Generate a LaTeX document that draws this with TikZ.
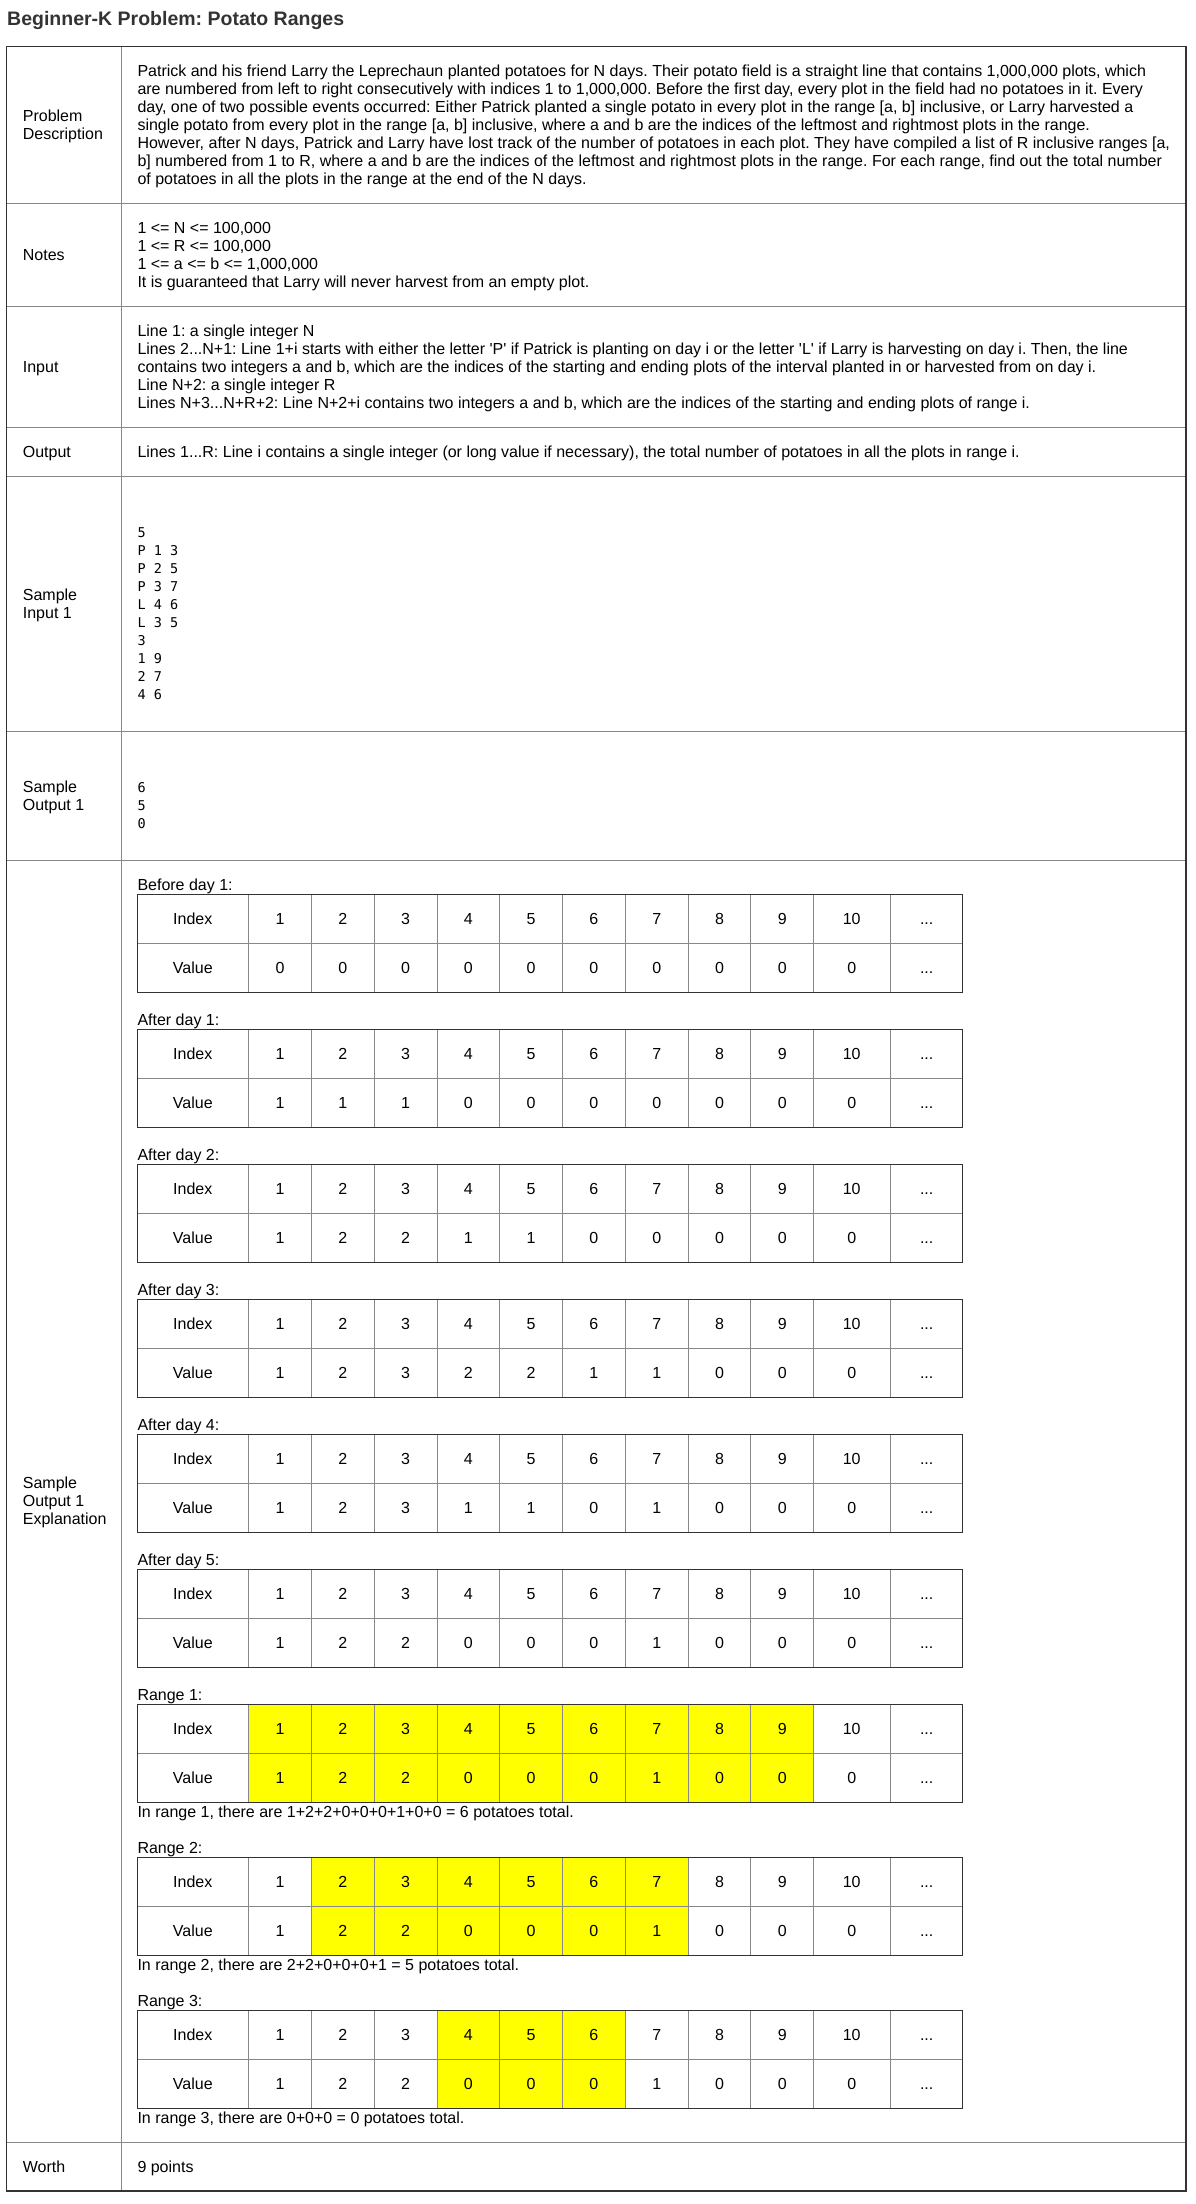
\documentclass[tikz,border=0pt]{standalone}
\usepackage{fontspec}
\setmainfont{Liberation Sans}
\setmonofont{DejaVu Sans Mono}
\definecolor{dark}{HTML}{333333}
\definecolor{grid}{HTML}{888888}
\definecolor{hl}{HTML}{FFFF00}
\tikzset{
  txt/.style={anchor=base west, inner sep=0pt, font=\fontsize{16}{18}\selectfont, text=black},
  mono/.style={anchor=base west, inner sep=0pt, font=\ttfamily\fontsize{13.5}{18}\selectfont, text=black},
  cell/.style={anchor=base, inner sep=0pt, font=\fontsize{16}{18}\selectfont, text=black},
  outerline/.style={draw=dark, line width=1.3pt},
  innerline/.style={draw=grid, line width=1pt},
}
% #1 name, #2 x, #3 y of text centre, #4 text
\newcommand\TL[4]{\node[txt] (#1) at (#2,#3+5.7) {#4};}
\newcommand\ML[4]{\node[mono] (#1) at (#2,#3+4.9) {#4};}
% #1 name, #2 top, #3 values of cells 1..9, #4 first highlighted, #5 last highlighted
\newcommand\ptable[5]{%
  \ifnum#4>0
    \fill[hl] ({248.7+62.77*(#4-1)},#2) rectangle ({248.7+62.77*#5},#2+98);
  \fi
  \foreach \k in {0,...,9}{\draw[innerline] ({248.7+62.77*\k},#2) -- ({248.7+62.77*\k},#2+98);}
  \draw[innerline] (890.8,#2) -- (890.8,#2+98);
  \draw[innerline] (137.3,#2+49) -- (962.7,#2+49);
  \draw[outerline] (137.3,#2) rectangle (962.7,#2+98);
  \node[cell] (#1ih) at (192.8,#2+30.2) {Index};
  \node[cell] (#1vh) at (192.8,#2+79.2) {Value};
  \foreach \k in {1,...,9}{\node[cell] (#1i\k) at ({248.7+62.77*(\k-0.5)},#2+30.2) {\k};}
  \foreach \v [count=\k] in {#3}{\node[cell] (#1v\k) at ({248.7+62.77*(\k-0.5)},#2+79.2) {\v};}
  \node[cell] (#1i10) at (851.7,#2+30.2) {10};
  \node[cell] (#1v10) at (851.7,#2+79.2) {0};
  \node[cell] (#1id) at (926.7,#2+30.2) {...};
  \node[cell] (#1vd) at (926.7,#2+79.2) {...};
}
\frenchspacing
\begin{document}
\frenchspacing
\begin{tikzpicture}[x=1pt,y=-1pt]
\useasboundingbox (0,0) rectangle (1195,2204);
\fill[white] (0,0) rectangle (1195,2204);
% title
\node[anchor=base west, inner sep=0pt, font=\fontsize{19.5}{22}\selectfont\bfseries, text=dark] (title) at (7,25) {Beginner-K Problem: Potato Ranges};
% main table
\foreach \y in {203,306,427.3,476,731.7,860.3,2142.3}{\draw[innerline] (6.7,\y) -- (1186,\y);}
\draw[innerline] (121.7,46.7) -- (121.7,2191);
\draw[outerline] (6.7,46.7) rectangle (1186,2191);
% labels
\TL{lpd1}{22.7}{115.3}{Problem}
\TL{lpd2}{22.7}{133.3}{Description}
\TL{lno}{22.7}{254.5}{Notes}
\TL{lin}{22.7}{366.7}{Input}
\TL{lout}{22.7}{451.7}{Output}
\TL{lsi1}{22.7}{594.3}{Sample}
\TL{lsi2}{22.7}{612.3}{Input 1}
\TL{lso1}{22.7}{786.7}{Sample}
\TL{lso2}{22.7}{804.7}{Output 1}
\TL{lse1}{22.7}{1482.3}{Sample}
\TL{lse2}{22.7}{1500.3}{Output 1}
\TL{lse3}{22.7}{1518.3}{Explanation}
\TL{lwo}{22.7}{2166.7}{Worth}
% description
\TL{d1}{137.3}{70.7}{Patrick and his friend Larry the Leprechaun planted potatoes for N days. Their potato field is a straight line that contains 1,000,000 plots, which}
\TL{d2}{137.3}{88.7}{are numbered from left to right consecutively with indices 1 to 1,000,000. Before the first day, every plot in the field had no potatoes in it. Every}
\TL{d3}{137.3}{106.7}{day, one of two possible events occurred: Either Patrick planted a single potato in every plot in the range [a, b] inclusive, or Larry harvested a}
\TL{d4}{137.3}{124.7}{single potato from every plot in the range [a, b] inclusive, where a and b are the indices of the leftmost and rightmost plots in the range.}
\TL{d5}{137.3}{142.7}{However, after N days, Patrick and Larry have lost track of the number of potatoes in each plot. They have compiled a list of R inclusive ranges [a,}
\TL{d6}{137.3}{160.7}{b] numbered from 1 to R, where a and b are the indices of the leftmost and rightmost plots in the range. For each range, find out the total number}
\TL{d7}{137.3}{178.7}{of potatoes in all the plots in the range at the end of the N days.}
% notes
\TL{n1}{137.3}{227.7}{1 <= N <= 100,000}
\TL{n2}{137.3}{245.7}{1 <= R <= 100,000}
\TL{n3}{137.3}{263.7}{1 <= a <= b <= 1,000,000}
\TL{n4}{137.3}{281.7}{It is guaranteed that Larry will never harvest from an empty plot.}
% input
\TL{i1}{137.3}{330.7}{Line 1: a single integer N}
\TL{i2}{137.3}{348.7}{Lines 2...N+1: Line 1+i starts with either the letter \textquotesingle P\textquotesingle\ if Patrick is planting on day i or the letter \textquotesingle L\textquotesingle\ if Larry is harvesting on day i. Then, the line}
\TL{i3}{137.3}{366.7}{contains two integers a and b, which are the indices of the starting and ending plots of the interval planted in or harvested from on day i.}
\TL{i4}{137.3}{384.7}{Line N+2: a single integer R}
\TL{i5}{137.3}{402.7}{Lines N+3...N+R+2: Line N+2+i contains two integers a and b, which are the indices of the starting and ending plots of range i.}
% output
\TL{o1}{137.3}{451.7}{Lines 1...R: Line i contains a single integer (or long value if necessary), the total number of potatoes in all the plots in range i.}
% sample input
\ML{s1}{137.3}{532.3}{5}
\ML{s2}{137.3}{550.3}{P 1 3}
\ML{s3}{137.3}{568.3}{P 2 5}
\ML{s4}{137.3}{586.3}{P 3 7}
\ML{s5}{137.3}{604.3}{L 4 6}
\ML{s6}{137.3}{622.3}{L 3 5}
\ML{s7}{137.3}{640.3}{3}
\ML{s8}{137.3}{658.3}{1 9}
\ML{s9}{137.3}{676.3}{2 7}
\ML{s10}{137.3}{694.3}{4 6}
% sample output
\ML{so1}{137.3}{787.3}{6}
\ML{so2}{137.3}{805.3}{5}
\ML{so3}{137.3}{823.3}{0}
% explanation
\TL{e0}{137.3}{884.8}{Before day 1:}
\ptable{ta}{894.3}{0,0,0,0,0,0,0,0,0}{0}{0}
\TL{e1}{137.3}{1019.8}{After day 1:}
\ptable{tb}{1029.3}{1,1,1,0,0,0,0,0,0}{0}{0}
\TL{e2}{137.3}{1154.8}{After day 2:}
\ptable{tc}{1164.3}{1,2,2,1,1,0,0,0,0}{0}{0}
\TL{e3}{137.3}{1289.8}{After day 3:}
\ptable{td}{1299.3}{1,2,3,2,2,1,1,0,0}{0}{0}
\TL{e4}{137.3}{1424.8}{After day 4:}
\ptable{te}{1434.3}{1,2,3,1,1,0,1,0,0}{0}{0}
\TL{e5}{137.3}{1559.8}{After day 5:}
\ptable{tf}{1569.3}{1,2,2,0,0,0,1,0,0}{0}{0}
\TL{r1}{137.3}{1694.8}{Range 1:}
\ptable{tg}{1704.3}{1,2,2,0,0,0,1,0,0}{1}{9}
\TL{c1}{137.3}{1811.7}{In range 1, there are 1+2+2+0+0+0+1+0+0 = 6 potatoes total.}
\TL{r2}{137.3}{1848.2}{Range 2:}
\ptable{th}{1857.7}{1,2,2,0,0,0,1,0,0}{2}{7}
\TL{c2}{137.3}{1965.1}{In range 2, there are 2+2+0+0+0+1 = 5 potatoes total.}
\TL{r3}{137.3}{2000.8}{Range 3:}
\ptable{ti}{2010.3}{1,2,2,0,0,0,1,0,0}{4}{6}
\TL{c3}{137.3}{2117.7}{In range 3, there are 0+0+0 = 0 potatoes total.}
% worth
\TL{w1}{137.3}{2166.7}{9 points}
\end{tikzpicture}
\end{document}
